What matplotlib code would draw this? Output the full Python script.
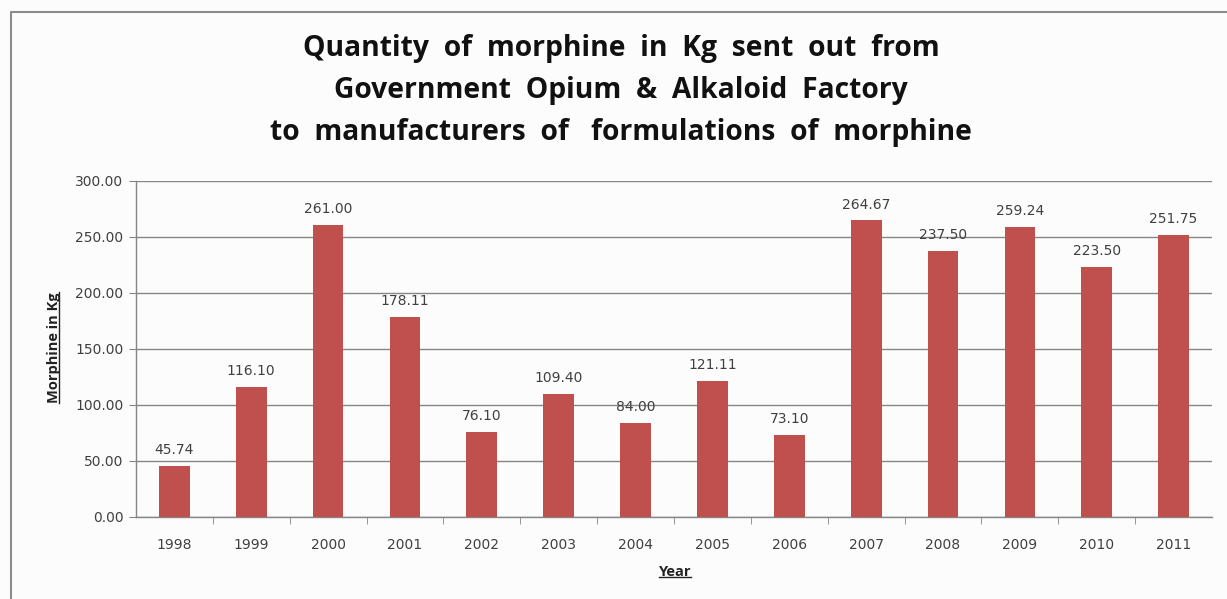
import matplotlib
matplotlib.use("Agg")
import matplotlib.pyplot as plt
from matplotlib.lines import Line2D

years = ["1998", "1999", "2000", "2001", "2002", "2003", "2004",
         "2005", "2006", "2007", "2008", "2009", "2010", "2011"]
morphine_kg = [45.74, 116.10, 261.00, 178.11, 76.10, 109.40, 84.00,
               121.11, 73.10, 264.67, 237.50, 259.24, 223.50, 251.75]
title = ("Quantity  of  morphine  in  Kg  sent  out  from\n"
         "Government  Opium  &  Alkaloid  Factory\n"
         "to  manufacturers  of   formulations  of  morphine")

plt.rcParams["font.family"] = ["Open Sans", "DejaVu Sans"]
BAR = "#c0504d"
GRID = "#868686"
TXT = "#404040"
BG = "#fcfcfc"
NUM_FONT = "DejaVu Sans"

fig = plt.figure(figsize=(12.27, 5.99), dpi=100, facecolor=BG)
ax = fig.add_axes([0.1108, 0.137, 0.877, 0.561], facecolor=BG)

x = list(range(len(years)))
bars = ax.bar(x, morphine_kg, width=0.4, color=BAR, zorder=3)
for xi, v in zip(x, morphine_kg):
    ax.text(xi, v + 8, f"{v:.2f}", ha="center", va="bottom",
            fontsize=10, color=TXT, family=NUM_FONT)

ax.set_xlim(-0.5, len(years) - 0.5)
ax.set_ylim(0, 300)
ax.set_yticks(range(0, 301, 50))
ax.set_yticklabels([f"{t:.2f}" for t in range(0, 301, 50)], family=NUM_FONT)
ax.set_xticks(x)
ax.set_xticklabels(years, family=NUM_FONT)
ax.set_xticks([i + 0.5 for i in x[:-1]], minor=True)
ax.tick_params(axis="x", which="major", length=0, pad=15,
               labelsize=10, labelcolor=TXT)
ax.tick_params(axis="x", which="minor", length=5, color=GRID, direction="out")
ax.tick_params(axis="y", length=5, color=GRID, pad=4,
               labelsize=10, labelcolor=TXT)
ax.yaxis.grid(True, color=GRID, linewidth=1, zorder=0)
for s in ["top", "right"]:
    ax.spines[s].set_visible(False)
for s in ["left", "bottom"]:
    ax.spines[s].set_color(GRID)
    ax.spines[s].set_linewidth(1)

fig.text(0.506, 0.944, title, ha="center", va="top", fontsize=20.3,
         fontweight="bold", color="#111111", linespacing=1.6)

ylab = fig.text(0.044, 0.42, "Morphine in Kg", rotation=90, ha="center",
                va="center", fontsize=10.5, fontweight="bold", color="#222222")
xlab = fig.text(0.55, 0.045, "Year", ha="center", va="center",
                fontsize=10.5, fontweight="bold", color="#222222")

# underline the axis labels
fig.canvas.draw()
r = fig.canvas.get_renderer()
inv = fig.transFigure.inverted()
bb = ylab.get_window_extent(r).transformed(inv)
fig.add_artist(Line2D([bb.x1 - 0.0015] * 2, [bb.y0, bb.y1],
                      transform=fig.transFigure, color="#222222", lw=1))
bb = xlab.get_window_extent(r).transformed(inv)
fig.add_artist(Line2D([bb.x0, bb.x1], [bb.y0 + 0.003] * 2,
                      transform=fig.transFigure, color="#222222", lw=1))

# outer frame (left and top edges visible)
fig.add_artist(Line2D([0.009, 0.009, 1.0], [0.0, 0.98, 0.98],
                      transform=fig.transFigure, color="#8c8c8c", lw=1.5))

fig.savefig("out.png", dpi=100, facecolor=BG)
